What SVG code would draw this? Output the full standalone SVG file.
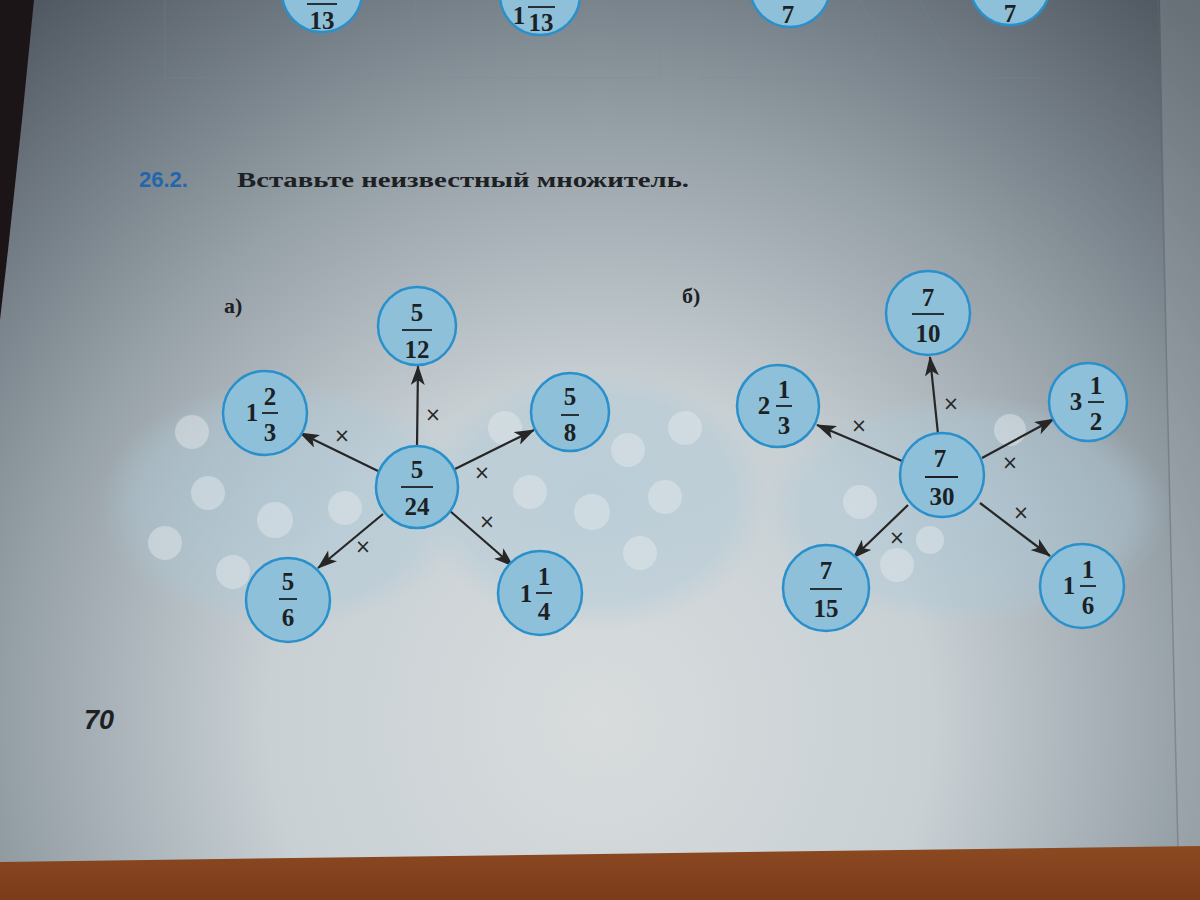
<svg xmlns="http://www.w3.org/2000/svg" width="1200" height="900" viewBox="0 0 1200 900">
  <defs>
    <radialGradient id="page" cx="600" cy="720" r="950" gradientUnits="userSpaceOnUse">
      <stop offset="0" stop-color="#d8dcdd"/>
      <stop offset="0.35" stop-color="#c8d0d4"/>
      <stop offset="0.62" stop-color="#96a0a7"/>
      <stop offset="1" stop-color="#48515a"/>
    </radialGradient>
    <linearGradient id="table" x1="0" y1="0" x2="0" y2="1">
      <stop offset="0" stop-color="#8c4a22"/>
      <stop offset="1" stop-color="#7b3a19"/>
    </linearGradient>
    <radialGradient id="blob" cx="0.5" cy="0.5" r="0.5">
      <stop offset="0" stop-color="#adc9d8" stop-opacity="0.6"/>
      <stop offset="0.8" stop-color="#adc9d8" stop-opacity="0.4"/>
      <stop offset="1" stop-color="#adc9d8" stop-opacity="0"/>
    </radialGradient>
    <marker id="ah" viewBox="0 0 20 14" refX="19" refY="7" markerWidth="20" markerHeight="14" markerUnits="userSpaceOnUse" orient="auto">
      <path d="M0,0 L20,7 L0,14 L5,7 Z" fill="#262626"/>
    </marker>
    <style>
      .node { fill: #8ec1d9; stroke: #2a90cb; stroke-width: 2.5; }
      .num { font-family: "Liberation Serif", "DejaVu Serif", serif; font-size: 25px; font-weight: bold; fill: #1d2124; text-anchor: middle; }
      .bar { stroke: #1d2124; stroke-width: 1.8; }
      .edge { stroke: #262626; stroke-width: 2.2; fill: none; marker-end: url(#ah); }
      .times { font-family: "DejaVu Sans", "Liberation Sans", sans-serif; font-size: 19px; fill: #262626; text-anchor: middle; }
      .dot { fill: #e6ecee; opacity: 0.45; }
      .faint { stroke: #7c8a95; stroke-width: 1; fill: none; opacity: 0.3; }
      .lbl { font-family: "Liberation Serif", "DejaVu Serif", serif; font-size: 22px; font-weight: bold; fill: #1d2124; }
    </style>
  </defs>

  <!-- photo background -->
  <rect x="0" y="0" width="1200" height="900" fill="url(#page)"/>
  <path d="M1160,0 L1200,0 L1200,850 L1177,850 Z" fill="#a4acb0" opacity="0.3"/>
  <path d="M1158,0 L1178,850" stroke="#5e666c" stroke-width="1.5" opacity="0.45"/>
  <path d="M0,0 L34,0 L22,120 L8,250 L0,320 Z" fill="#1c1517"/>
  <path d="M0,862 L1200,846 L1200,900 L0,900 Z" fill="url(#table)"/>

  <!-- faint table from previous exercise -->
  <g id="prev-tables">
    <rect class="faint" x="165" y="-2" width="205" height="80"/>
    <rect class="faint" x="415" y="-2" width="245" height="80"/>
    <path class="faint" d="M700,0 L720,35 L700,78 M860,0 L880,35 L860,78 M700,78 L860,78 M920,0 L960,78 L1040,78"/>
  </g>

  <!-- cut off circles of previous exercise -->
  <g id="prev-1"><circle class="node" cx="322" cy="-8" r="40"/><line class="bar" x1="307" y1="4" x2="337" y2="4"/><text class="num" x="322" y="29">13</text></g>
  <g id="prev-2"><circle class="node" cx="540" cy="-5" r="40"/><line class="bar" x1="528" y1="7" x2="555" y2="7"/><text class="num" x="519" y="24">1</text><text class="num" x="541" y="31">13</text></g>
  <g id="prev-3"><circle class="node" cx="790" cy="-13" r="40"/><text class="num" x="788" y="23">7</text></g>
  <g id="prev-4"><circle class="node" cx="1010" cy="-15" r="40"/><text class="num" x="1010" y="22">7</text></g>

  <!-- background decoration blobs -->
  <g id="decor">
    <ellipse cx="285" cy="505" rx="185" ry="125" fill="url(#blob)"/>
    <ellipse cx="595" cy="500" rx="175" ry="130" fill="url(#blob)"/>
    <ellipse cx="965" cy="510" rx="205" ry="115" fill="url(#blob)"/>
    <circle class="dot" cx="192" cy="432" r="17"/>
    <circle class="dot" cx="208" cy="493" r="17"/>
    <circle class="dot" cx="165" cy="543" r="17"/>
    <circle class="dot" cx="275" cy="520" r="18"/>
    <circle class="dot" cx="345" cy="508" r="17"/>
    <circle class="dot" cx="233" cy="572" r="17"/>
    <circle class="dot" cx="505" cy="428" r="17"/>
    <circle class="dot" cx="530" cy="492" r="17"/>
    <circle class="dot" cx="592" cy="512" r="18"/>
    <circle class="dot" cx="628" cy="450" r="17"/>
    <circle class="dot" cx="685" cy="428" r="17"/>
    <circle class="dot" cx="665" cy="497" r="17"/>
    <circle class="dot" cx="640" cy="553" r="17"/>
    <circle class="dot" cx="860" cy="502" r="17"/>
    <circle class="dot" cx="897" cy="565" r="17"/>
    <circle class="dot" cx="1010" cy="430" r="16"/>
    <circle class="dot" cx="930" cy="540" r="14"/>
  </g>

  <!-- heading -->
  <g id="heading">
    <text x="139" y="187" font-family="'Liberation Sans', Arial, sans-serif" font-weight="bold" font-size="22" fill="#2266ad">26.2.</text>
    <text x="237" y="187" font-family="'Liberation Serif', 'DejaVu Serif', serif" font-weight="bold" font-size="22" fill="#1d2124" textLength="452" lengthAdjust="spacingAndGlyphs">Вставьте неизвестный множитель.</text>
    <text class="lbl" x="224" y="313">а)</text>
    <text class="lbl" x="682" y="303">б)</text>
  </g>

  <!-- connectors -->
  <g id="connectors">
    <line class="edge" x1="417" y1="446" x2="418" y2="366"/>
    <line class="edge" x1="378" y1="471" x2="300" y2="433"/>
    <line class="edge" x1="455" y1="469" x2="534" y2="430"/>
    <line class="edge" x1="383" y1="514" x2="318" y2="568"/>
    <line class="edge" x1="450" y1="511" x2="513" y2="566"/>
    <text class="times" x="433" y="421">×</text>
    <text class="times" x="342" y="442">×</text>
    <text class="times" x="482" y="479">×</text>
    <text class="times" x="363" y="553">×</text>
    <text class="times" x="487" y="528">×</text>

    <line class="edge" x1="938" y1="434" x2="930" y2="357"/>
    <line class="edge" x1="902" y1="461" x2="817" y2="425"/>
    <line class="edge" x1="982" y1="458" x2="1054" y2="419"/>
    <line class="edge" x1="908" y1="505" x2="853" y2="558"/>
    <line class="edge" x1="980" y1="503" x2="1050" y2="556"/>
    <text class="times" x="951" y="410">×</text>
    <text class="times" x="859" y="432">×</text>
    <text class="times" x="1010" y="469">×</text>
    <text class="times" x="897" y="544">×</text>
    <text class="times" x="1021" y="519">×</text>
  </g>

  <!-- diagram a -->
  <g id="a-center"><circle class="node" cx="417" cy="487" r="41"/><text class="num" x="417" y="478">5</text><line class="bar" x1="401" y1="487" x2="433" y2="487"/><text class="num" x="417" y="515">24</text></g>
  <g id="a-top"><circle class="node" cx="417" cy="326" r="39"/><text class="num" x="417" y="321">5</text><line class="bar" x1="402" y1="330" x2="432" y2="330"/><text class="num" x="417" y="358">12</text></g>
  <g id="a-left"><circle class="node" cx="265" cy="413" r="42"/><text class="num" x="252" y="421">1</text><text class="num" x="270" y="405">2</text><line class="bar" x1="262" y1="413" x2="278" y2="413"/><text class="num" x="270" y="441">3</text></g>
  <g id="a-right"><circle class="node" cx="570" cy="412" r="39"/><text class="num" x="570" y="405">5</text><line class="bar" x1="561" y1="415" x2="579" y2="415"/><text class="num" x="570" y="441">8</text></g>
  <g id="a-lowleft"><circle class="node" cx="288" cy="600" r="42"/><text class="num" x="288" y="590">5</text><line class="bar" x1="279" y1="599" x2="297" y2="599"/><text class="num" x="288" y="626">6</text></g>
  <g id="a-lowright"><circle class="node" cx="540" cy="593" r="42"/><text class="num" x="526" y="602">1</text><text class="num" x="544" y="585">1</text><line class="bar" x1="536" y1="593" x2="552" y2="593"/><text class="num" x="544" y="620">4</text></g>

  <!-- diagram b -->
  <g id="b-center"><circle class="node" cx="942" cy="475" r="42"/><text class="num" x="940" y="467">7</text><line class="bar" x1="925" y1="477" x2="958" y2="477"/><text class="num" x="942" y="505">30</text></g>
  <g id="b-top"><circle class="node" cx="928" cy="313" r="42"/><text class="num" x="928" y="306">7</text><line class="bar" x1="912" y1="314" x2="944" y2="314"/><text class="num" x="928" y="342">10</text></g>
  <g id="b-left"><circle class="node" cx="778" cy="406" r="41"/><text class="num" x="764" y="414">2</text><text class="num" x="784" y="398">1</text><line class="bar" x1="776" y1="406" x2="792" y2="406"/><text class="num" x="784" y="434">3</text></g>
  <g id="b-right"><circle class="node" cx="1088" cy="402" r="39"/><text class="num" x="1076" y="410">3</text><text class="num" x="1096" y="394">1</text><line class="bar" x1="1088" y1="402" x2="1104" y2="402"/><text class="num" x="1096" y="430">2</text></g>
  <g id="b-lowleft"><circle class="node" cx="826" cy="588" r="43"/><text class="num" x="826" y="579">7</text><line class="bar" x1="810" y1="589" x2="842" y2="589"/><text class="num" x="826" y="617">15</text></g>
  <g id="b-lowright"><circle class="node" cx="1082" cy="586" r="42"/><text class="num" x="1069" y="594">1</text><text class="num" x="1088" y="578">1</text><line class="bar" x1="1080" y1="586" x2="1096" y2="586"/><text class="num" x="1088" y="614">6</text></g>

  <!-- page number -->
  <text id="page-number" x="84" y="729" font-family="'Liberation Sans', Arial, sans-serif" font-weight="bold" font-style="italic" font-size="27" fill="#1d2124">70</text>
</svg>
